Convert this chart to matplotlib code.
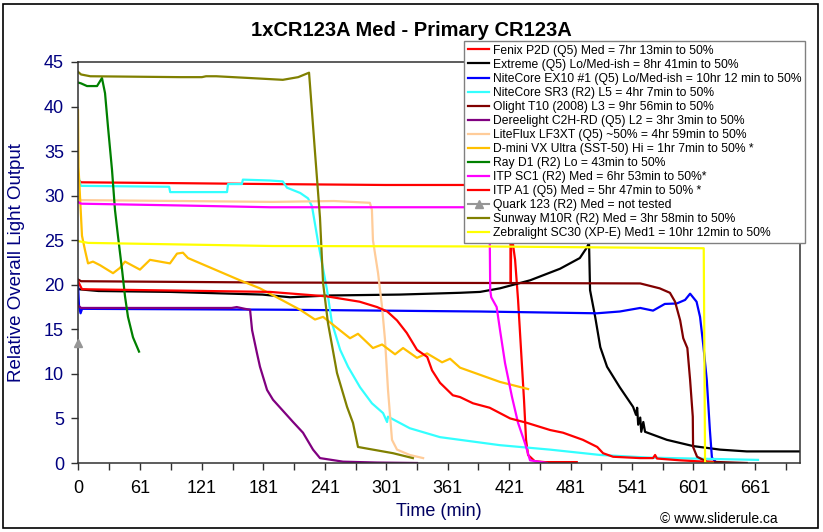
import matplotlib
matplotlib.use("Agg")
import matplotlib.pyplot as plt
from matplotlib.patches import Rectangle

plt.rcParams['font.family'] = ['Liberation Sans', 'DejaVu Sans']

# runtime data (minutes, relative output)
fenix_t = [0, 3, 100, 190, 300, 380, 418, 421.8, 422.6, 423.4, 424.8, 426.8, 429.7, 432.6,
           435.5, 437.5, 439.5, 446, 456, 487]
fenix_v = [31.8, 31.5, 31.4, 31.3, 31.2, 31.2, 31.1, 31.0, 20.2, 31.0, 24.5, 22.8, 18.3, 12.7,
           7.1, 2.6, 0.9, 0.2, 0.1, 0.1]

extreme_t = [0, 0.5, 20, 90, 180, 207, 246, 314, 373, 392.6, 412, 441.4, 470.7, 490, 497, 499,
             500, 505, 510, 516.6, 529, 542, 544.9, 546, 547, 549, 550, 552, 553.7, 575, 600.6,
             627, 653, 705]
extreme_v = [19.7, 19.5, 19.3, 19.2, 18.9, 18.6, 18.8, 18.9, 19.1, 19.2, 19.6, 20.5, 21.8, 23.0,
             24.2, 24.7, 19.4, 16.4, 13.0, 10.8, 8.5, 6.3, 5.4, 6.2, 4.3, 5.1, 3.5, 4.6, 3.5, 2.6,
             1.9, 1.5, 1.3, 1.3]

ex10_t = [0, 1, 2.5, 4, 200, 392.6, 506.5, 529, 549, 561.5, 573, 584.6, 592.8, 597.7, 604,
          607.4, 610.7, 614, 617, 619, 623.7]
ex10_v = [20.0, 17.6, 16.8, 17.3, 17.2, 17.0, 16.8, 17.0, 17.4, 17.1, 17.85, 17.9, 18.3, 19.0, 18.1,
          16.4, 13.1, 9.3, 3.7, 0.6, 0.0]

sr3_t = [0, 2, 3, 89, 90, 145.5, 146.5, 160, 161, 187.5, 200, 204, 217, 224.6, 228.5, 234.4,
         243.2, 248, 256, 263.7, 275.4, 287, 297.9, 301.8, 302.7, 324, 353.5, 412, 461, 510,
         558.6, 664]
sr3_v = [32.5, 31.3, 31.1, 31.0, 30.4, 30.4, 31.3, 31.3, 31.8, 31.7, 31.6, 30.9, 30.3, 29.7, 28.8,
         24.8, 19.4, 15.7, 12.7, 10.8, 8.5, 6.7, 5.6, 4.6, 5.2, 3.9, 2.9, 2.0, 1.5, 0.9, 0.6, 0.35]

olight_t = [0, 3, 190, 400, 549, 568, 578, 583, 588, 591, 595, 597.7, 600.3, 600.6, 604.5, 614, 653]
olight_v = [20.6, 20.4, 20.25, 20.2, 20.15, 19.6, 19.1, 18.1, 16.0, 14.0, 12.9, 9.3, 5.2, 1.8, 0.7,
            0.15, 0.0]

deree_t = [0, 3, 150, 155, 163, 168, 170, 174.8, 177.7, 184.6, 190.4, 210, 219.7, 229.5, 236.3,
           258.8, 292, 331]
deree_v = [17.7, 17.4, 17.4, 17.5, 17.3, 17.2, 14.9, 12.3, 10.8, 8.2, 7.1, 4.6, 3.4, 1.5, 0.55,
           0.15, 0.05, 0.0]

liteflux_t = [0, 3, 100, 190, 250, 285, 287, 288, 293, 296.9, 299.8, 302.7, 306.6, 311.5, 324, 337]
liteflux_v = [29.8, 29.5, 29.4, 29.3, 29.4, 29.2, 28.4, 25.0, 21.3, 17.5, 13.8, 8.2, 2.6, 1.5, 0.9,
              0.55]

dmini_t = [0, 0.5, 3.9, 6.8, 9.8, 14.6, 21.5, 34.2, 41, 45.9, 60.5, 70.3, 80, 89.8, 96.7, 102.5,
           107.4, 158.2, 177.7, 216.8, 231.4, 239.3, 265.6, 273.4, 288, 296.9, 309.6, 317.4, 331,
           340.8, 355.5, 363.3, 373, 412, 439.5]
dmini_v = [39.6, 33.2, 25.5, 23.9, 22.4, 22.6, 22.2, 21.3, 21.9, 22.6, 21.7, 22.8, 22.6, 22.4, 23.5,
           23.6, 23.0, 20.5, 19.6, 17.2, 16.1, 16.4, 14.0, 14.5, 12.9, 13.3, 12.2, 12.9, 11.8, 12.3,
           11.3, 11.7, 10.7, 9.1, 8.3]

ray_t = [0, 3, 8.8, 18.6, 23.4, 26.4, 29.3, 33.2, 36.1, 39, 43, 45.9, 48.8, 53.7, 59.6]
ray_v = [42.7, 42.6, 42.3, 42.3, 43.2, 41.5, 37.7, 32.9, 28.4, 25.5, 21.7, 18.7, 16.4, 14.1, 12.5]

sc1_t = [0, 3, 100, 187.5, 300, 401.8, 402.5, 403.5, 408.8, 412.1, 417, 423.8, 429.7, 436.5,
         441.4, 458]
sc1_v = [29.3, 29.1, 28.9, 28.7, 28.7, 28.7, 19.4, 18.6, 17.5, 14.9, 11.2, 7.4, 4.5, 2.2, 0.3, 0.0]

a1_t = [0, 3.9, 187.5, 243, 275, 292, 302, 311.5, 321, 331, 341, 345.7, 353.5, 366, 373, 385.7,
        402, 412, 422, 438.5, 461, 473.6, 493, 507, 512.7, 522.5, 549, 561.5, 563.5, 565.4, 588, 620]
a1_v = [20.4, 19.5, 19.2, 18.7, 18.1, 17.5, 17.0, 16.0, 14.6, 12.7, 11.9, 10.4, 9.0, 7.6, 7.4, 6.7,
        6.2, 5.6, 5.0, 4.5, 3.7, 3.4, 2.6, 1.8, 1.1, 0.7, 0.55, 0.55, 0.9, 0.5, 0.3, 0.1]

quark_t = [0]
quark_v = [13.5]

sunway_t = [0, 3, 12, 100, 121, 125, 135, 168, 200, 215, 225.6, 226.6, 231.4, 236.3, 239.3, 244.1,
            252.9, 262.7, 268.5, 273.4, 288, 307.6, 327]
sunway_v = [43.9, 43.6, 43.4, 43.3, 43.3, 43.4, 43.4, 43.2, 43.0, 43.3, 43.8, 42.3, 34.9, 27.5,
            20.2, 15.7, 10.1, 6.3, 4.5, 1.8, 1.5, 1.1, 0.55]

zebra_t = [0, 10, 190, 400, 611, 612.3, 620]
zebra_v = [24.9, 24.7, 24.35, 24.3, 24.1, 0.0, 0.0]

labels = [
    "Fenix P2D (Q5) Med = 7hr 13min to 50%",
    "Extreme (Q5) Lo/Med-ish = 8hr 41min to 50%",
    "NiteCore EX10 #1 (Q5) Lo/Med-ish = 10hr 12 min to 50%",
    "NiteCore SR3 (R2) L5 = 4hr 7min to 50%",
    "Olight T10 (2008) L3 = 9hr 56min to 50%",
    "Dereelight C2H-RD (Q5) L2 = 3hr 3min to 50%",
    "LiteFlux LF3XT (Q5) ~50% = 4hr 59min to 50%",
    "D-mini VX Ultra (SST-50) Hi = 1hr 7min to 50% *",
    "Ray D1 (R2) Lo = 43min to 50%",
    "ITP SC1 (R2) Med = 6hr 53min to 50%*",
    "ITP A1 (Q5) Med = 5hr 47min to 50% *",
    "Quark 123 (R2) Med = not tested",
    "Sunway M10R (R2) Med = 3hr 58min to 50%",
    "Zebralight SC30 (XP-E) Med1 = 10hr 12min to 50%",
]
colors = ['#FF0000', '#000000', '#0000FF', '#33FFFF', '#800000', '#800080', '#FFCC99',
          '#FFC000', '#008000', '#FF00FF', '#FF0000', '#969696', '#808000', '#FFFF00']

series = [(fenix_t, fenix_v), (extreme_t, extreme_v), (ex10_t, ex10_v), (sr3_t, sr3_v),
          (olight_t, olight_v), (deree_t, deree_v), (liteflux_t, liteflux_v),
          (dmini_t, dmini_v), (ray_t, ray_v), (sc1_t, sc1_v), (a1_t, a1_v),
          (quark_t, quark_v), (sunway_t, sunway_v), (zebra_t, zebra_v)]

x_major = [0, 61, 121, 181, 241, 301, 361, 421, 481, 541, 601, 661]
x_minor = [30.5, 91, 151, 211, 271, 331, 391, 451, 511, 571, 631, 691]

W, H = 823, 532
fig = plt.figure(figsize=(W / 100, H / 100), dpi=100)
ax = fig.add_axes([78 / W, 1 - 463 / H, (800 - 78) / W, (463 - 62) / H])

for (t, v), lab, c in zip(series, labels, colors):
    if lab.startswith("Quark"):
        ax.plot(t, v, color=c, lw=1.5, marker='^', ms=6, label=lab, clip_on=False, zorder=5)
    else:
        ax.plot(t, v, color=c, lw=1.6, label=lab)

ax.set_xlim(0, 705)
ax.set_ylim(0, 45)
ax.set_yticks(range(0, 46, 5))
ax.set_xticks(x_major)
ax.set_xticklabels([str(x) for x in x_major])
ax.set_xticks(x_minor, minor=True)

for s in ax.spines.values():
    s.set_color('#303030')
    s.set_linewidth(1.1)
ax.tick_params(axis='x', which='both', direction='out', length=5, width=1, color='#303030')
ax.tick_params(axis='x', which='major', labelsize=13, pad=7, labelcolor='black')
ax.tick_params(axis='y', direction='out', length=5, width=1, color='#303030',
               labelsize=13, labelcolor='#000080', pad=5)

ax.set_ylabel("Relative Overall Light Output", fontsize=13.5, color='#000080')
ax.yaxis.set_label_coords(-0.073, 0.5)
ax.set_xlabel("Time (min)", fontsize=13, color='#000060')
ax.xaxis.set_label_coords(0.5, -0.1)

fig.text(0.5, 1 - 31 / H, "1xCR123A Med - Primary CR123A", ha='center', va='center',
         fontsize=14.5, fontweight='bold')

leg = ax.legend(loc='upper left', bbox_to_anchor=(464 / W, 1 - 41 / H),
                bbox_transform=fig.transFigure, fontsize=8.7, frameon=True, fancybox=False,
                framealpha=1, edgecolor='#808080', handlelength=1.8, handletextpad=0.3,
                labelspacing=0.17, borderpad=0.3, borderaxespad=0)
leg.get_frame().set_linewidth(1.0)
leg.set_zorder(10)

fig.text(660 / W, 1 - 519 / H, "\u00a9 www.sliderule.ca", ha='left', va='center', fontsize=10)

fig.patches.append(Rectangle((3 / W, 4 / H), (818 - 3) / W, (528 - 4) / H,
                             transform=fig.transFigure, fill=False, edgecolor='black',
                             linewidth=1.2))

fig.savefig("out.png", dpi=100)
